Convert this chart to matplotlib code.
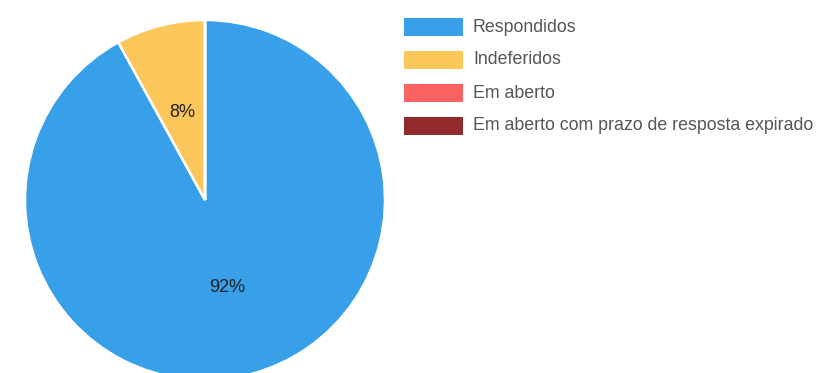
import matplotlib.pyplot as plt
from matplotlib.patches import Rectangle

# Status of requests (percent)
categorias = ['Respondidos', 'Indeferidos', 'Em aberto', 'Em aberto com prazo de resposta expirado']
valores = [92, 8, 0, 0]
cores = ['#37a0e8', '#fbc65a', '#fd6262', '#922b2b']

plt.rcParams['font.family'] = ['Liberation Sans', 'DejaVu Sans']

W, H = 823, 373
fig = plt.figure(figsize=(W / 100, H / 100), dpi=100)

# pie centre (205, 200) px, radius 180 px -> bottom goes past the figure edge
cx, cy, r = 205, 200, 180
ax = fig.add_axes([(cx - r) / W, (H - cy - r) / H, 2 * r / W, 2 * r / H])


def rotulo(p):
    return f'{p:.0f}%' if p > 0.5 else ''


wedges, textos, autotextos = ax.pie(
    valores, colors=cores, startangle=90, counterclock=False,
    autopct=rotulo, pctdistance=0.5,
    wedgeprops=dict(edgecolor='white', linewidth=1.8),
    textprops=dict(fontsize=13, color='#222222'))
ax.set_xlim(-1, 1)
ax.set_ylim(-1, 1)
ax.set_aspect('equal')
ax.axis('off')

# legend drawn by hand, in figure pixels
x0, y0, dy = 404, 27, 33
sw, sh = 59, 18
for i, (nome, cor) in enumerate(zip(categorias, cores)):
    yc = y0 + i * dy
    fig.patches.append(Rectangle(((x0) / W, (H - yc - sh / 2) / H), sw / W, sh / H,
                                 transform=fig.transFigure, facecolor=cor,
                                 edgecolor='none'))
    fig.text((x0 + sw + 10) / W, (H - yc) / H, nome, fontsize=12.8,
             color='#555555', va='center', ha='left')

fig.savefig('out.png', dpi=100)
